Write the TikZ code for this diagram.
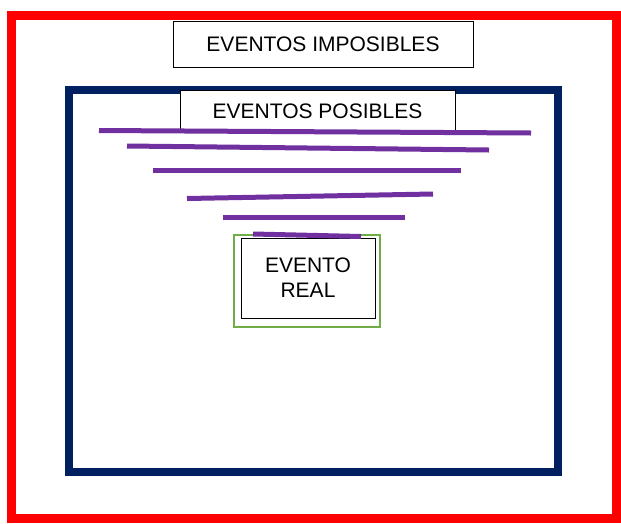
\documentclass[tikz,border=0pt]{standalone}
\usepackage{fontspec}
\setmainfont{Liberation Sans}
\definecolor{frame red}{HTML}{FF0000}
\definecolor{navy}{HTML}{002060}
\definecolor{violet line}{HTML}{7030A0}
\definecolor{leaf}{HTML}{70AD47}
\tikzset{
  label box/.style={draw=black, line width=1pt, fill=white, inner sep=0pt,
    font=\fontsize{21}{25}\selectfont, align=center},
  ray/.style={draw=violet line, line width=5pt},
}
\begin{document}
\begin{tikzpicture}[x=1pt,y=-1pt]
\useasboundingbox (0,0) rectangle (621,523);
\fill[white] (0,0) rectangle (621,523);
% outer red frame
\node[draw=frame red, line width=9pt, inner sep=0pt, minimum width=605pt, minimum height=503pt] (imp) at (314,267) {};
\node[label box, minimum width=300pt, minimum height=46pt] (imptitle) at (323,44) {EVENTOS IMPOSIBLES};
% navy frame
\node[draw=navy, line width=7.5pt, inner sep=0pt, minimum width=489pt, minimum height=382pt] (pos) at (313.5,281) {};
\node[label box, minimum width=275pt, minimum height=41pt] (postitle) at (317.5,111) {EVENTOS POSIBLES};
% purple lines
\coordinate (a1) at (99,130.5); \coordinate (b1) at (531,133);
\coordinate (a2) at (127,146); \coordinate (b2) at (489,150);
\coordinate (a3) at (153,170); \coordinate (b3) at (461,170);
\coordinate (a4) at (187,198.5); \coordinate (b4) at (433,194);
\coordinate (a5) at (223,217.5); \coordinate (b5) at (405,217.5);
% real event
\node[draw=leaf, line width=2.5pt, inner sep=0pt, minimum width=146pt, minimum height=92pt] (realouter) at (307,281) {};
\node[label box, fill=none, minimum width=134pt, minimum height=80pt] (real) at (308,278) {EVENTO\\REAL};
\coordinate (a6) at (253,234); \coordinate (b6) at (361,236.5);
\foreach \i in {1,...,6} \draw[ray] (a\i) -- (b\i);
\end{tikzpicture}
\end{document}
